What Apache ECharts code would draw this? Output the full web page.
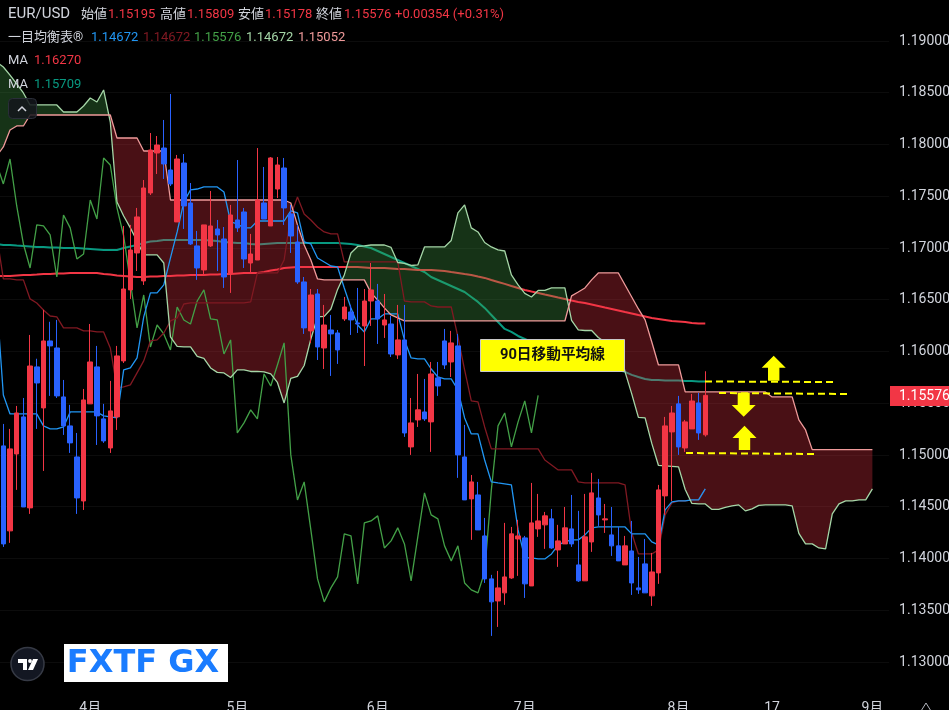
<!DOCTYPE html>
<html>
<head>
<meta charset="utf-8">
<style>html,body{margin:0;padding:0;background:#000;overflow:hidden}#c{width:949px;height:710px}</style>
<script src="https://cdn.jsdelivr.net/npm/echarts@6/dist/echarts.min.js"></script>
</head>
<body>
<div id="c"></div>
<script>
const opens=[1.15088,1.14267,1.15010,1.15368,1.14489,1.15851,1.15455,1.16102,1.16034,1.15561,1.15281,1.14981,1.14556,1.15494,1.15851,1.15349,1.15068,1.15368,1.15909,1.16595,1.16952,1.16682,1.17532,1.17918,1.17966,1.17754,1.17252,1.17821,1.17435,1.17020,1.16788,1.17020,1.17184,1.17087,1.16759,1.17271,1.17348,1.16855,1.16884,1.17435,1.17213,1.17570,1.17773,1.17329,1.17058,1.16672,1.16199,1.16556,1.16034,1.16208,1.16179,1.16315,1.16382,1.16276,1.16247,1.16488,1.16488,1.16256,1.16266,1.15967,1.16112,1.15078,1.15339,1.15416,1.15320,1.15745,1.16102,1.15899,1.16054,1.14981,1.14576,1.14614,1.14218,1.13803,1.13590,1.13668,1.13812,1.14189,1.14199,1.13735,1.14286,1.14325,1.14383,1.14083,1.14141,1.14286,1.13938,1.13784,1.14160,1.14585,1.14373,1.14228,1.14122,1.13938,1.14073,1.13716,1.13948,1.13639,1.13861,1.14605,1.15223,1.15494,1.15068,1.15252,1.15503,1.15195];
const closes=[1.14141,1.15059,1.15406,1.14498,1.15860,1.15696,1.16102,1.16054,1.15571,1.15281,1.15117,1.14585,1.15532,1.15899,1.15378,1.15136,1.15426,1.15957,1.16604,1.16981,1.17300,1.17580,1.17947,1.17995,1.17812,1.17619,1.17860,1.17406,1.17039,1.16807,1.17223,1.17213,1.17126,1.16720,1.17319,1.17194,1.16894,1.16942,1.17464,1.17280,1.17870,1.17802,1.17387,1.17116,1.16672,1.16228,1.16546,1.16044,1.16256,1.16170,1.16015,1.16430,1.16305,1.16266,1.16488,1.16595,1.16315,1.16305,1.15976,1.16112,1.15213,1.15310,1.15436,1.15349,1.15783,1.15667,1.15870,1.16083,1.15001,1.14566,1.14740,1.14276,1.13803,1.13581,1.13716,1.13822,1.14238,1.14218,1.13755,1.14344,1.14363,1.14412,1.14102,1.14170,1.14296,1.14141,1.13784,1.14209,1.14634,1.14421,1.14383,1.14122,1.13977,1.14122,1.13764,1.13697,1.13668,1.13870,1.14663,1.15281,1.15406,1.15078,1.15320,1.15522,1.15213,1.15576];
const highs=[1.15300,1.15252,1.15474,1.15551,1.16160,1.15930,1.16403,1.16287,1.16305,1.15725,1.15484,1.15213,1.15638,1.16266,1.16054,1.15494,1.15716,1.16054,1.17213,1.17223,1.17387,1.17657,1.18111,1.18082,1.18237,1.18488,1.17899,1.17908,1.17628,1.17165,1.17223,1.17551,1.17271,1.17203,1.17416,1.17850,1.17387,1.17136,1.17966,1.17783,1.17879,1.17879,1.17870,1.17416,1.17223,1.16720,1.16604,1.16604,1.16450,1.16353,1.16208,1.16527,1.16450,1.16614,1.16604,1.16855,1.16653,1.16556,1.16343,1.16450,1.16450,1.15551,1.15783,1.15735,1.15899,1.15899,1.16218,1.16199,1.16170,1.15291,1.14807,1.14740,1.14392,1.13842,1.13880,1.14344,1.14305,1.14373,1.14218,1.14730,1.14624,1.14450,1.14479,1.14325,1.14498,1.14614,1.14460,1.14624,1.14827,1.14769,1.14527,1.14498,1.14305,1.14218,1.14363,1.14015,1.14189,1.14054,1.14711,1.15368,1.15474,1.15571,1.15339,1.15590,1.15600,1.15809];
const lows=[1.14112,1.14151,1.14663,1.14498,1.14431,1.15252,1.14846,1.15571,1.15551,1.15194,1.15020,1.14431,1.14469,1.15494,1.15097,1.15117,1.15020,1.15242,1.15889,1.16508,1.16778,1.16643,1.17512,1.17715,1.17667,1.17599,1.17252,1.17184,1.17029,1.16692,1.16730,1.17010,1.16778,1.16614,1.16566,1.17155,1.16807,1.16768,1.16884,1.17280,1.17213,1.17483,1.17223,1.16952,1.16653,1.16170,1.16083,1.15918,1.15831,1.15764,1.15880,1.16295,1.16160,1.16179,1.15860,1.16247,1.16073,1.16131,1.15947,1.15928,1.15175,1.15001,1.15271,1.15329,1.15030,1.15571,1.15831,1.15754,1.14779,1.14566,1.14180,1.14276,1.13764,1.13252,1.13339,1.13552,1.13803,1.13832,1.13619,1.13735,1.14209,1.14093,1.14093,1.13919,1.14141,1.14112,1.13774,1.13784,1.14064,1.14315,1.14247,1.14025,1.13977,1.13938,1.13648,1.13658,1.13668,1.13542,1.13755,1.14421,1.14556,1.15001,1.15030,1.15252,1.15146,1.15178];
// Ichimoku and moving averages start one bar before the first visible candle
const tenkan=[1.16498,1.15580,1.15397,1.15397,1.15397,1.15397,1.15397,1.15281,1.15252,1.15252,1.15271,1.15416,1.15416,1.15416,1.15416,1.15416,1.15378,1.15368,1.15358,1.15822,1.15841,1.15938,1.16334,1.16566,1.16566,1.16643,1.16904,1.17155,1.17445,1.17561,1.17570,1.17590,1.17590,1.17590,1.17541,1.17252,1.17232,1.17194,1.17194,1.17261,1.17261,1.17261,1.17261,1.17261,1.17358,1.17339,1.17058,1.17039,1.16904,1.16865,1.16826,1.16817,1.16614,1.16421,1.16256,1.16189,1.16315,1.16315,1.16363,1.16363,1.16363,1.16112,1.15938,1.15928,1.15928,1.15831,1.15754,1.15735,1.15735,1.15629,1.15358,1.15204,1.15204,1.14952,1.14740,1.14730,1.14721,1.14711,1.14276,1.14006,1.14006,1.13996,1.13996,1.14044,1.14131,1.14160,1.14180,1.14180,1.14228,1.14296,1.14305,1.14305,1.14305,1.14305,1.14305,1.14238,1.14238,1.14238,1.14160,1.14131,1.14469,1.14547,1.14556,1.14556,1.14566,1.14566,1.14672];
const kijun=[1.17126,1.16701,1.16701,1.16692,1.16692,1.16508,1.16469,1.16401,1.16343,1.16334,1.16228,1.16228,1.16228,1.16199,1.16199,1.16189,1.16189,1.16034,1.15648,1.15658,1.15677,1.15793,1.15909,1.16102,1.16112,1.16179,1.16295,1.16324,1.16459,1.16469,1.16469,1.16469,1.16469,1.16469,1.16469,1.16469,1.16469,1.16469,1.16479,1.16759,1.16759,1.16759,1.16759,1.16884,1.17319,1.17493,1.17329,1.17271,1.17203,1.17155,1.17136,1.17136,1.16865,1.16865,1.16865,1.16865,1.16865,1.16865,1.16865,1.16865,1.16865,1.16488,1.16479,1.16479,1.16479,1.16440,1.16430,1.16430,1.16430,1.16141,1.15822,1.15522,1.15513,1.15271,1.15059,1.15059,1.15059,1.15059,1.15059,1.15059,1.15059,1.15059,1.14952,1.14904,1.14856,1.14856,1.14856,1.14740,1.14730,1.14730,1.14730,1.14730,1.14730,1.14730,1.14711,1.14247,1.14044,1.14044,1.14044,1.14083,1.14421,1.14537,1.14556,1.14556,1.14566,1.14566,1.14672];
const chikou=[1.17812,1.17619,1.17860,1.17406,1.17039,1.16807,1.17223,1.17213,1.17126,1.16720,1.17319,1.17194,1.16894,1.16942,1.17464,1.17280,1.17870,1.17802,1.17387,1.17116,1.16672,1.16228,1.16546,1.16044,1.16256,1.16170,1.16015,1.16430,1.16305,1.16266,1.16488,1.16595,1.16315,1.16305,1.15976,1.16112,1.15213,1.15310,1.15436,1.15349,1.15783,1.15667,1.15870,1.16083,1.15001,1.14566,1.14740,1.14276,1.13803,1.13581,1.13716,1.13822,1.14238,1.14218,1.13755,1.14344,1.14363,1.14412,1.14102,1.14170,1.14296,1.14141,1.13784,1.14209,1.14634,1.14421,1.14383,1.14122,1.13977,1.14122,1.13764,1.13697,1.13668,1.13870,1.14663,1.15281,1.15406,1.15078,1.15320,1.15522,1.15213,1.15576];
const senkouA=[1.18797,1.18749,1.18671,1.18585,1.18498,1.18382,1.18382,1.18382,1.18382,1.18382,1.18314,1.18314,1.18314,1.18372,1.18449,1.18411,1.18527,1.18217,1.17445,1.17309,1.17194,1.17068,1.16933,1.16933,1.16933,1.16855,1.16141,1.16049,1.16044,1.16044,1.15952,1.15933,1.15841,1.15798,1.15793,1.15749,1.15822,1.15822,1.15807,1.15807,1.15803,1.15783,1.15701,1.15503,1.15740,1.15759,1.15865,1.16121,1.16334,1.16339,1.16411,1.16600,1.16740,1.16952,1.17015,1.17020,1.17029,1.17029,1.17029,1.17005,1.16860,1.16851,1.16831,1.16836,1.17010,1.17010,1.17010,1.17010,1.17073,1.17339,1.17416,1.17194,1.17155,1.17053,1.17010,1.16981,1.16971,1.16740,1.16643,1.16561,1.16527,1.16590,1.16590,1.16614,1.16614,1.16614,1.16300,1.16208,1.16203,1.16203,1.16136,1.16092,1.16083,1.16083,1.15803,1.15590,1.15363,1.15358,1.15112,1.14899,1.14894,1.14890,1.14885,1.14667,1.14532,1.14527,1.14527,1.14474,1.14474,1.14494,1.14508,1.14518,1.14460,1.14479,1.14513,1.14518,1.14518,1.14518,1.14518,1.14508,1.14242,1.14141,1.14141,1.14102,1.14093,1.14431,1.14527,1.14556,1.14556,1.14566,1.14566,1.14672];
const senkouB=[1.17889,1.17976,1.18140,1.18179,1.18179,1.18285,1.18285,1.18285,1.18285,1.18285,1.18285,1.18285,1.18285,1.18285,1.18285,1.18285,1.18285,1.18285,1.18063,1.18063,1.18063,1.18063,1.17937,1.17937,1.17937,1.17937,1.17464,1.17464,1.17464,1.17464,1.17464,1.17464,1.17464,1.17464,1.17464,1.17464,1.17464,1.17464,1.17464,1.17464,1.17464,1.17464,1.17464,1.17464,1.17435,1.17223,1.17029,1.16884,1.16701,1.16692,1.16692,1.16692,1.16692,1.16692,1.16692,1.16692,1.16566,1.16498,1.16421,1.16353,1.16324,1.16295,1.16295,1.16295,1.16295,1.16295,1.16295,1.16295,1.16295,1.16295,1.16295,1.16295,1.16295,1.16295,1.16295,1.16295,1.16295,1.16295,1.16295,1.16295,1.16295,1.16295,1.16295,1.16295,1.16295,1.16295,1.16537,1.16575,1.16614,1.16692,1.16759,1.16759,1.16759,1.16759,1.16643,1.16527,1.16411,1.16305,1.16092,1.15870,1.15870,1.15870,1.15870,1.15609,1.15609,1.15609,1.15609,1.15609,1.15609,1.15609,1.15609,1.15609,1.15609,1.15609,1.15609,1.15609,1.15561,1.15561,1.15561,1.15561,1.15339,1.15242,1.15052,1.15052,1.15052,1.15052,1.15052,1.15052,1.15052,1.15052,1.15052,1.15052];
const maRed=[1.16730,1.16730,1.16730,1.16735,1.16740,1.16740,1.16744,1.16749,1.16749,1.16754,1.16754,1.16759,1.16759,1.16759,1.16759,1.16759,1.16749,1.16744,1.16735,1.16730,1.16725,1.16720,1.16720,1.16725,1.16725,1.16730,1.16730,1.16735,1.16735,1.16740,1.16740,1.16740,1.16744,1.16744,1.16749,1.16749,1.16754,1.16759,1.16759,1.16759,1.16768,1.16783,1.16793,1.16807,1.16812,1.16817,1.16817,1.16817,1.16817,1.16817,1.16817,1.16817,1.16817,1.16817,1.16817,1.16812,1.16807,1.16807,1.16807,1.16802,1.16797,1.16797,1.16793,1.16788,1.16788,1.16788,1.16783,1.16778,1.16768,1.16759,1.16749,1.16740,1.16725,1.16711,1.16691,1.16672,1.16653,1.16633,1.16614,1.16595,1.16580,1.16566,1.16551,1.16537,1.16522,1.16508,1.16493,1.16479,1.16469,1.16455,1.16440,1.16425,1.16411,1.16397,1.16382,1.16368,1.16353,1.16339,1.16324,1.16315,1.16305,1.16295,1.16290,1.16285,1.16276,1.16271,1.16270];
const maTeal=[1.17039,1.17029,1.17029,1.17024,1.17020,1.17015,1.17010,1.17010,1.17005,1.17005,1.17000,1.17000,1.17000,1.16995,1.16991,1.16986,1.16981,1.16981,1.16981,1.17000,1.17015,1.17029,1.17049,1.17063,1.17068,1.17078,1.17078,1.17078,1.17078,1.17078,1.17078,1.17078,1.17073,1.17068,1.17058,1.17053,1.17049,1.17049,1.17039,1.17034,1.17039,1.17044,1.17049,1.17049,1.17049,1.17049,1.17049,1.17049,1.17049,1.17049,1.17049,1.17049,1.17044,1.17039,1.17029,1.17015,1.17000,1.16971,1.16942,1.16913,1.16884,1.16855,1.16826,1.16797,1.16768,1.16720,1.16691,1.16662,1.16633,1.16604,1.16575,1.16527,1.16479,1.16421,1.16353,1.16285,1.16218,1.16189,1.16150,1.16121,1.16092,1.16063,1.16034,1.16005,1.15976,1.15947,1.15918,1.15899,1.15880,1.15860,1.15851,1.15841,1.15831,1.15822,1.15803,1.15774,1.15754,1.15735,1.15725,1.15725,1.15720,1.15720,1.15720,1.15716,1.15716,1.15711,1.15709];
const monthLabels=['4月','5月','6月','7月','8月','17','9月'];
const monthBars=[13,35,56,78,101,115,130];
const priceTicks={min:1.13,max:1.19,step:0.005};
const lastClose='1.15576';

const barW=6.685, totalBars=134; // one hidden lead bar + visible bars
const categories=new Array(totalBars).fill('');
monthBars.forEach((b,i)=>{categories[b+1]=monthLabels[i];});

const RED='#f23645',BLUE='#2962ff';
const UI='Roboto,"Noto Sans CJK JP",sans-serif';
const pairs=a=>a.map((v,k)=>[k,v]);
function lineSeries(name,arr,color,width,z,opacity){
  return {name,type:'line',data:pairs(arr),symbol:'none',silent:true,z,
    lineStyle:{color,width,opacity:opacity==null?1:opacity},showSymbol:false,animation:false};
}
function cloud(params,api){
  const runs=[];let cur=null;
  const n=senkouA.length;
  for(let k=0;k<n-1;k++){
    const a0=senkouA[k],b0=senkouB[k],a1=senkouA[k+1],b1=senkouB[k+1];
    const d0=a0-b0,d1=a1-b1;
    const up=d0>=0;
    if(!cur||cur.up!==up){cur={up,top:[],bot:[]};runs.push(cur);cur.top.push([k,a0]);cur.bot.push([k,b0]);}
    if(d0*d1<0){
      const t=d0/(d0-d1),xk=k+t,yv=a0+(a1-a0)*t;
      cur.top.push([xk,yv]);cur.bot.push([xk,yv]);
      cur={up:!up,top:[[xk,yv]],bot:[[xk,yv]]};runs.push(cur);
    }
    cur.top.push([k+1,a1]);cur.bot.push([k+1,b1]);
  }
  const xOf=k=>{const p0=api.coord([0,1.16]),p1=api.coord([1,1.16]);return p0[0]+(p1[0]-p0[0])*k;};
  const yOf=v=>api.coord([0,v])[1];
  const children=runs.map(r=>({
    type:'polygon',silent:true,
    shape:{points:r.top.concat(r.bot.slice().reverse()).map(p=>[xOf(p[0]),yOf(p[1])])},
    style:{fill:r.up?'rgba(67,160,71,0.32)':'rgba(242,54,69,0.30)',stroke:null}
  }));
  return {type:'group',children};
}
function txt(x,y,text,fill,extra){
  return {type:'text',left:x,top:y,z:100,silent:true,
    style:Object.assign({text,fill,font:'13px '+UI,textVerticalAlign:'top'},extra||{})};
}
function arrowUp(cx,tip,base,bottom,hw,sw){
  return {type:'polygon',z:90,silent:true,shape:{points:[[cx,tip],[cx+hw,base],[cx+sw,base],[cx+sw,bottom],[cx-sw,bottom],[cx-sw,base],[cx-hw,base]]},style:{fill:'#ffff00'}};
}
function arrowDown(cx,tip,base,top,hw,sw){
  return {type:'polygon',z:90,silent:true,shape:{points:[[cx,tip],[cx+hw,base],[cx+sw,base],[cx+sw,top],[cx-sw,top],[cx-sw,base],[cx-hw,base]]},style:{fill:'#ffff00'}};
}
function dash(x1,y1,x2,y2){
  return {type:'line',z:90,silent:true,shape:{x1,y1,x2,y2},style:{stroke:'#ffff00',lineWidth:2,lineDash:[7,4]}};
}
const GREY='#d1d4dc';
const graphics=[
  txt(8,7,'EUR/USD',GREY,{font:'15px '+UI}),
  txt(81,8,'始値',GREY),txt(108,8,'1.15195',RED),
  txt(160,8,'高値',GREY),txt(187,8,'1.15809',RED),
  txt(238,8,'安値',GREY),txt(265,8,'1.15178',RED),
  txt(316,8,'終値',GREY),txt(344,8,'1.15576',RED),
  txt(395,8,'+0.00354 (+0.31%)',RED),
  txt(8,31,'一目均衡表®',GREY),
  txt(91,31,'1.14672','#2196f3'),txt(143,31,'1.14672','#801922'),
  txt(194,31,'1.15576','#43a047'),txt(246,31,'1.14672','#a5d6a7'),txt(298,31,'1.15052','#ef9a9a'),
  txt(8,54,'MA',GREY),txt(34,54,'1.16270',RED),
  txt(8,78,'MA',GREY),txt(34,78,'1.15709','#089981'),
  {type:'rect',z:100,silent:true,shape:{x:8.5,y:98.5,width:28,height:20,r:4},style:{fill:'rgba(20,22,28,0.85)',stroke:'#2a2e39',lineWidth:1}},
  {type:'polyline',z:101,silent:true,shape:{points:[[18,111],[22,107],[26,111]]},style:{stroke:'#d1d4dc',fill:null,lineWidth:1.5}},
  // label box
  {type:'rect',z:95,silent:true,shape:{x:480.5,y:339.5,width:144,height:32},style:{fill:'#ffff00',stroke:'#c9c9c9',lineWidth:1}},
  {type:'text',z:96,silent:true,style:{text:'90日移動平均線',x:552.5,y:355.5,fill:'#111',font:'bold 14.7px '+UI,textAlign:'center',textVerticalAlign:'middle'}},
  dash(705,381.5,836,382),dash(719,393,851,394),dash(686,453,818,454),
  arrowUp(773.7,355.7,367.7,380.7,12,5.7),
  arrowDown(743.7,416.7,405,392.7,12,6),
  arrowUp(744.5,425.7,438,450,12,5.7),
  // price tag
  {type:'rect',z:100,silent:true,shape:{x:890,y:386,width:59,height:20},style:{fill:RED}},
  {type:'text',z:101,silent:true,style:{text:lastClose,x:899,y:396.5,fill:'#fff',font:'14px '+UI,textVerticalAlign:'middle'}},
  // TradingView badge
  {type:'circle',z:100,silent:true,shape:{cx:27.5,cy:664,r:16.5},style:{fill:'#131722',stroke:'#363a45',lineWidth:1.5}},
  {type:'polygon',z:101,silent:true,shape:{points:[[18,659],[27,659],[27,670],[23,670],[23,663],[18,663]]},style:{fill:'#fff'}},
  {type:'circle',z:101,silent:true,shape:{cx:30,cy:661,r:1.9},style:{fill:'#fff'}},
  {type:'polygon',z:101,silent:true,shape:{points:[[33,659],[38,659],[33,670],[28,670]]},style:{fill:'#fff'}},
  // FXTF GX logo
  {type:'rect',z:100,silent:true,shape:{x:64,y:644,width:164,height:38},style:{fill:'#fff'}},
  {type:'text',z:101,silent:true,style:{text:'FXTF GX',x:143,y:664,fill:'#1a7cff',font:'900 32px "DejaVu Sans",sans-serif',textAlign:'center',textVerticalAlign:'middle'}},
  // scale icon
  {type:'polyline',z:100,silent:true,shape:{points:[[921,711],[926,703],[931,711]]},style:{stroke:'#b2b5be',fill:null,lineWidth:1}}
];

const chart=echarts.init(document.getElementById('c'),null,{renderer:'canvas'});
chart.setOption({
  animation:false,backgroundColor:'#000',
  graphic:graphics,
  grid:{left:-barW,top:41,width:barW*totalBars,height:621,containLabel:false,outerBoundsMode:'none'},
  xAxis:{type:'category',data:categories,boundaryGap:true,
    axisLine:{show:false},axisTick:{show:false},splitLine:{show:false},
    axisLabel:{interval:0,color:GREY,fontSize:14,fontFamily:UI,margin:39,hideOverlap:false}},
  yAxis:{type:'value',position:'right',min:priceTicks.min,max:priceTicks.max,interval:priceTicks.step,
    axisLine:{show:false},axisTick:{show:false},
    splitLine:{show:true,lineStyle:{color:'#0c0c0c',width:1}},
    axisLabel:{color:GREY,fontSize:14,fontFamily:UI,margin:10,padding:[2,0,0,0],formatter:v=>v.toFixed(5)}},
  series:[
    lineSeries('MA90',maTeal,'#089981',2,1),
    lineSeries('MA200',maRed,'#f23645',2,1),
    {type:'custom',renderItem:cloud,data:[[0,1.16]],encode:{x:0,y:1},silent:true,z:2,clip:true},
    lineSeries('Chikou',chikou,'#43a047',1.3,3),
    lineSeries('Kijun',kijun,'#801922',1.3,3),
    lineSeries('Tenkan',tenkan,'#2196f3',1.3,3),
    lineSeries('SenkouA',senkouA,'#a5d6a7',1.3,3),
    lineSeries('SenkouB',senkouB,'#ef9a9a',1.3,3),
    {type:'candlestick',z:5,barWidth:5,silent:true,
      data:opens.map((o,i)=>[i+1,o,closes[i],lows[i],highs[i]]),
      encode:{x:0,y:[1,2,3,4]},
      itemStyle:{color:RED,color0:BLUE,borderColor:RED,borderColor0:BLUE,borderWidth:1}}
  ]
});
</script>
</body>
</html>
